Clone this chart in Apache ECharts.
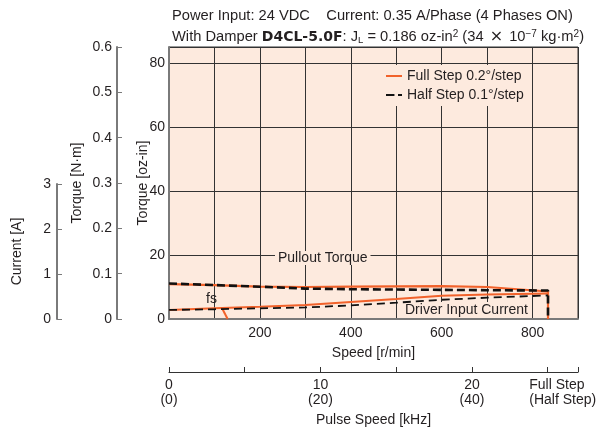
<!DOCTYPE html>
<html><head><meta charset="utf-8">
<script src="https://cdn.jsdelivr.net/npm/echarts@6/dist/echarts.min.js"></script>
<style>html,body{margin:0;padding:0;background:#fff}#c{width:600px;height:435px}</style>
</head><body><div id="c"></div>
<script>
// ---- data ----
const pulloutSpeed = [0, 100, 200, 300, 400, 500, 600, 700, 834, 834];
const fullPullout = [10.9, 10.6, 10.1, 10.0, 10.1, 10.2, 10.3, 10.0, 8.6, 0];   // oz-in
const halfPullout = [11.1, 10.6, 10.1, 9.5, 9.3, 9.2, 9.1, 9.0, 8.9, 0];        // oz-in
const currentSpeed = [0, 100, 200, 300, 400, 500, 600, 700, 834];
const fullCurrent = [0.20, 0.235, 0.27, 0.31, 0.375, 0.44, 0.515, 0.54, 0.565]; // A
const halfCurrent = [0.20, 0.215, 0.235, 0.255, 0.30, 0.36, 0.425, 0.47, 0.52]; // A
const fsSpeed = [116, 129];
const fsTorque = [3.6, 0];
const seriesNames = ['Full Step 0.2°/step', 'Half Step 0.1°/step'];
const speedTickLabels = {200: '200', 400: '400', 600: '600', 800: '800'};
const ozTickLabels = {0: '0', 20: '20', 40: '40', 60: '60', 80: '80'};
const nmTickLabels = ['0', '0.1', '0.2', '0.3', '0.4', '0.5', '0.6'];
const currentTickLabels = ['0', '1', '2', '3'];
const pulseTickLabels = {0: '0\n(0)', 10: '10\n(20)', 20: '20\n(40)', 25: '{fs|Full Step\n(Half Step)}'};

const zip = (a, b) => a.map((v, i) => [v, b[i]]);
const FONT = "'Liberation Sans', Arial, sans-serif";
const FS = 14;
const TFS = 14.7;
const TXT = '#231f20';
const ORANGE = '#f1622b';
const BG = '#fdeade';
const AX = '#7a7a7a';

const chart = echarts.init(document.getElementById('c'), null, {renderer: 'canvas'});
const yName = (gap) => ({nameLocation: 'middle', nameGap: gap, nameMoveOverlap: false,
  nameTextStyle: {fontFamily: FONT, fontSize: FS, color: TXT}});
const option = {
  animation: false,
  textStyle: {fontFamily: FONT, color: TXT},
  title: [
    {text: 'Power Input: 24 VDC    Current: 0.35 A/Phase (4 Phases ON)', left: 167, top: 3,
     textStyle: {fontFamily: FONT, fontSize: TFS, fontWeight: 'normal', color: TXT}},
    {text: 'With Damper {b|D4CL-5.0F}: J{sub|L} = 0.186 oz-in{sup|2} (34 {x|×} 10{sup|−7} kg·m{sup|2})', left: 167, top: 24,
     textStyle: {fontFamily: FONT, fontSize: TFS, fontWeight: 'normal', color: TXT,
       rich: {
         b: {fontFamily: "'DejaVu Sans', sans-serif", fontWeight: 'bold', fontSize: 14, color: TXT},
         sub: {fontFamily: FONT, fontSize: 9.5, color: TXT, verticalAlign: 'bottom', padding: [5, 0, 0, 0]},
         sup: {fontFamily: FONT, fontSize: 10, color: TXT, verticalAlign: 'top', padding: [0, 0, 5, 0]},
         x: {fontFamily: "'DejaVu Sans', sans-serif", fontSize: 16, color: TXT, padding: [0, 2]}
       }}}
  ],
  legend: {
    data: seriesNames, orient: 'vertical', left: 378, top: 65,
    itemWidth: 16, itemHeight: 2, itemGap: 5, padding: [4, 8, 4, 7], backgroundColor: BG,
    textStyle: {fontFamily: FONT, fontSize: FS, color: TXT}
  },
  grid: [
    {left: 169, top: 47, width: 409, height: 272, show: true, backgroundColor: BG, borderColor: '#333', borderWidth: 1},
    {left: 57, top: 184, width: 1, height: 135, show: false}
  ],
  xAxis: [
    {gridIndex: 0, type: 'value', min: 0, max: 900, interval: 100,
     name: 'Speed [r/min]', nameLocation: 'middle', nameGap: 27, nameMoveOverlap: false,
     nameTextStyle: {fontFamily: FONT, fontSize: FS, color: TXT},
     axisLine: {show: true, onZero: false, lineStyle: {color: AX, width: 2}},
     axisTick: {show: false},
     splitLine: {show: true, lineStyle: {color: '#333', width: 1}},
     axisLabel: {fontFamily: FONT, fontSize: FS, color: TXT, margin: 7,
       formatter: v => speedTickLabels[v] || ''}},
    {gridIndex: 0, type: 'value', position: 'bottom', offset: 53, min: 0, max: 27, interval: 5,
     name: 'Pulse Speed [kHz]', nameLocation: 'middle', nameGap: 41, nameMoveOverlap: false,
     nameTextStyle: {fontFamily: FONT, fontSize: FS, color: TXT},
     axisLine: {show: true, onZero: false, lineStyle: {color: '#333', width: 1.2}},
     axisTick: {show: true, inside: true, length: 5, lineStyle: {color: '#333'}},
     splitLine: {show: false},
     axisLabel: {fontFamily: FONT, fontSize: FS, color: TXT, margin: 6, lineHeight: 15,
       formatter: v => pulseTickLabels[v] || '',
       rich: {fs: {fontFamily: FONT, fontSize: FS, color: TXT, lineHeight: 15, align: 'left', padding: [0, 0, 0, 30]}}}},
    {gridIndex: 1, type: 'value', show: false, min: 0, max: 1}
  ],
  yAxis: [
    Object.assign({gridIndex: 0, type: 'value', min: 0, max: 85, interval: 20, position: 'left',
     name: 'Torque [oz-in]',
     axisLine: {show: true, onZero: false, lineStyle: {color: AX, width: 2}},
     axisTick: {show: false},
     splitLine: {show: true, lineStyle: {color: '#333', width: 1}},
     axisLabel: {fontFamily: FONT, fontSize: FS, color: TXT, margin: 4, showMaxLabel: false,
       formatter: v => ozTickLabels[v] !== undefined ? ozTickLabels[v] : ''}}, yName(19)),
    Object.assign({gridIndex: 0, type: 'value', min: 0, max: 0.6, interval: 0.1, position: 'left', offset: 52,
     name: 'Torque [N·m]',
     axisLine: {show: true, onZero: false, lineStyle: {color: AX, width: 2}},
     axisTick: {show: true, inside: true, length: 5, lineStyle: {color: AX}},
     splitLine: {show: false},
     axisLabel: {fontFamily: FONT, fontSize: FS, color: TXT, margin: 5,
       formatter: v => nmTickLabels[Math.round(v * 10)]}}, yName(33)),
    {gridIndex: 0, type: 'value', min: 0, max: 6, show: false},
    Object.assign({gridIndex: 1, type: 'value', min: 0, max: 3, interval: 1, position: 'left',
     name: 'Current [A]',
     axisLine: {show: true, onZero: false, lineStyle: {color: AX, width: 2}},
     axisTick: {show: true, inside: true, length: 5, lineStyle: {color: AX}},
     splitLine: {show: false},
     axisLabel: {fontFamily: FONT, fontSize: FS, color: TXT, margin: 6,
       formatter: v => currentTickLabels[Math.round(v)]}}, yName(33))
  ],
  series: [
    {name: seriesNames[0], type: 'line', xAxisIndex: 0, yAxisIndex: 0, symbol: 'none', z: 3,
     data: zip(pulloutSpeed, fullPullout), lineStyle: {color: ORANGE, width: 2.2}, itemStyle: {color: ORANGE}},
    {name: seriesNames[1], type: 'line', xAxisIndex: 0, yAxisIndex: 0, symbol: 'none', z: 4,
     data: zip(pulloutSpeed, halfPullout), lineStyle: {color: '#111', width: 2.6, type: [8, 4]}, itemStyle: {color: '#111'}},
    {name: seriesNames[0], type: 'line', xAxisIndex: 0, yAxisIndex: 2, symbol: 'none', z: 3,
     data: zip(currentSpeed, fullCurrent), lineStyle: {color: ORANGE, width: 2}, itemStyle: {color: ORANGE}},
    {name: seriesNames[1], type: 'line', xAxisIndex: 0, yAxisIndex: 2, symbol: 'none', z: 4,
     data: zip(currentSpeed, halfCurrent), lineStyle: {color: '#111', width: 1.8, type: [8, 5]}, itemStyle: {color: '#111'}},
    {name: 'fs', type: 'line', xAxisIndex: 0, yAxisIndex: 0, symbol: 'none', z: 3,
     data: zip(fsSpeed, fsTorque), lineStyle: {color: ORANGE, width: 2}}
  ],
  graphic: [
    {type: 'text', left: 275, top: 251, z: 10,
     style: {text: 'Pullout Torque', font: FS + 'px ' + FONT, fill: TXT, backgroundColor: BG, padding: [0, 3]}},
    {type: 'text', left: 206, top: 292, z: 10,
     style: {text: 'fs', font: FS + 'px ' + FONT, fill: TXT}},
    {type: 'text', left: 403, top: 302, z: 2,
     style: {text: 'Driver Input Current', font: FS + 'px ' + FONT, fill: TXT, backgroundColor: BG, padding: [1, 2]}}
  ]
};
chart.setOption(option);
</script></body></html>
